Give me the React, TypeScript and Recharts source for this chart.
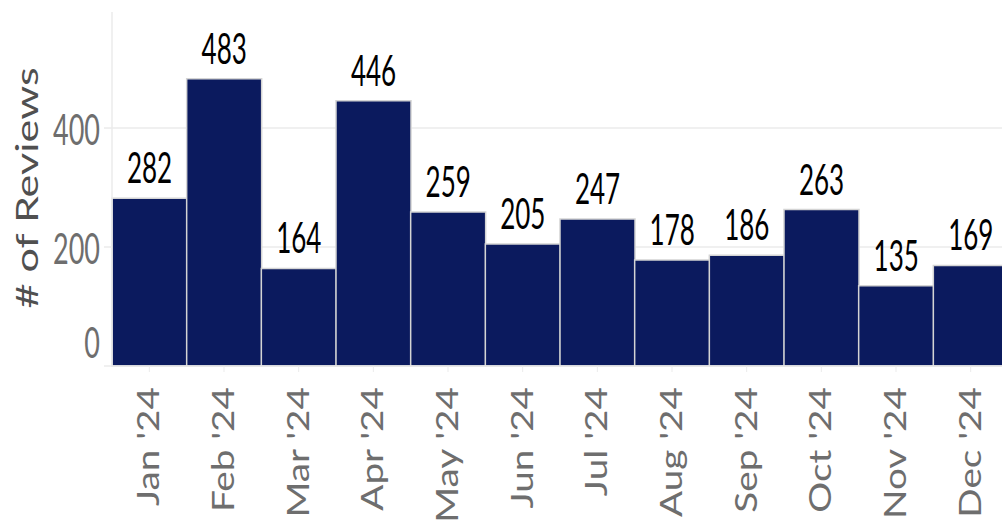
import React from 'react'
import { BarChart, Bar, XAxis, YAxis, CartesianGrid, LabelList } from 'recharts'

// Monthly review counts for 2024
const months = ["Jan '24", "Feb '24", "Mar '24", "Apr '24", "May '24", "Jun '24", "Jul '24", "Aug '24", "Sep '24", "Oct '24", "Nov '24", "Dec '24"]
const reviews = [282, 483, 164, 446, 259, 205, 247, 178, 186, 263, 135, 169]
const yTicks = [0, 200, 400]

const data = months.map((m, i) => ({ month: m, reviews: reviews[i] }))

const FONT = 'Lato, "Noto Sans", sans-serif'
const GRID = '#ebebeb'

const YTick = (props: any) => {
    const { x, y, payload } = props
    // bottom label sits flush above the axis end
    const dy = payload.value === 0 ? -25 : 0
    return (
        <text
            transform={`translate(${x},${y + dy}) scale(1,1.55)`}
            textAnchor="end"
            dominantBaseline="central"
            fontFamily={FONT}
            fontSize={27}
            fill="#6e6e6e"
        >
            {payload.value}
        </text>
    )
}

const XTick = (props: any) => {
    const { x, y, payload } = props
    return (
        <text
            transform={`translate(${x + 10},${y + 13}) rotate(-90) scale(1.29,1)`}
            textAnchor="end"
            fontFamily={FONT}
            fontSize={30}
            fill="#6e6e6e"
        >
            {payload.value}
        </text>
    )
}

const ValueLabel = (props: any) => {
    const { x, y, width, value } = props
    return (
        <text
            transform={`translate(${x + width / 2},${y - 15}) scale(1,1.65)`}
            textAnchor="middle"
            fontFamily={FONT}
            fontSize={26}
            fill="#000"
        >
            {value}
        </text>
    )
}

const YTitle = () => (
    <text
        transform="translate(38,188) rotate(-90) scale(1.44,1)"
        textAnchor="middle"
        fontFamily={FONT}
        fontSize={30}
        fill="#505050"
    >
        # of Reviews
    </text>
)

export default function App() {
    return (
        <div style={{ position: 'fixed', left: 0, top: 0, width: 1002, height: 523, overflow: 'hidden', background: '#fff' }}>
            <BarChart
                width={1020}
                height={523}
                data={data}
                barCategoryGap={0}
                margin={{ top: 12, right: 12, left: 8, bottom: 0 }}
            >
                <CartesianGrid vertical={false} horizontalValues={yTicks} stroke={GRID} strokeWidth={1.5} />
                <XAxis
                    dataKey="month"
                    interval={0}
                    height={157}
                    tickSize={6}
                    tickMargin={2}
                    tick={<XTick />}
                    tickLine={{ stroke: GRID }}
                    axisLine={{ stroke: GRID, strokeWidth: 1.5 }}
                />
                <YAxis
                    width={104}
                    domain={[0, 595]}
                    ticks={yTicks}
                    tickSize={8}
                    tickMargin={4}
                    tick={<YTick />}
                    tickLine={{ stroke: GRID, strokeWidth: 1.5 }}
                    axisLine={{ stroke: GRID, strokeWidth: 1.5 }}
                    label={{ content: () => <YTitle /> }}
                />
                <Bar dataKey="reviews" fill="#0b1a5e" stroke="#d4d4d4" strokeWidth={1.5} isAnimationActive={false}>
                    <LabelList dataKey="reviews" content={<ValueLabel />} />
                </Bar>
            </BarChart>
        </div>
    )
}
